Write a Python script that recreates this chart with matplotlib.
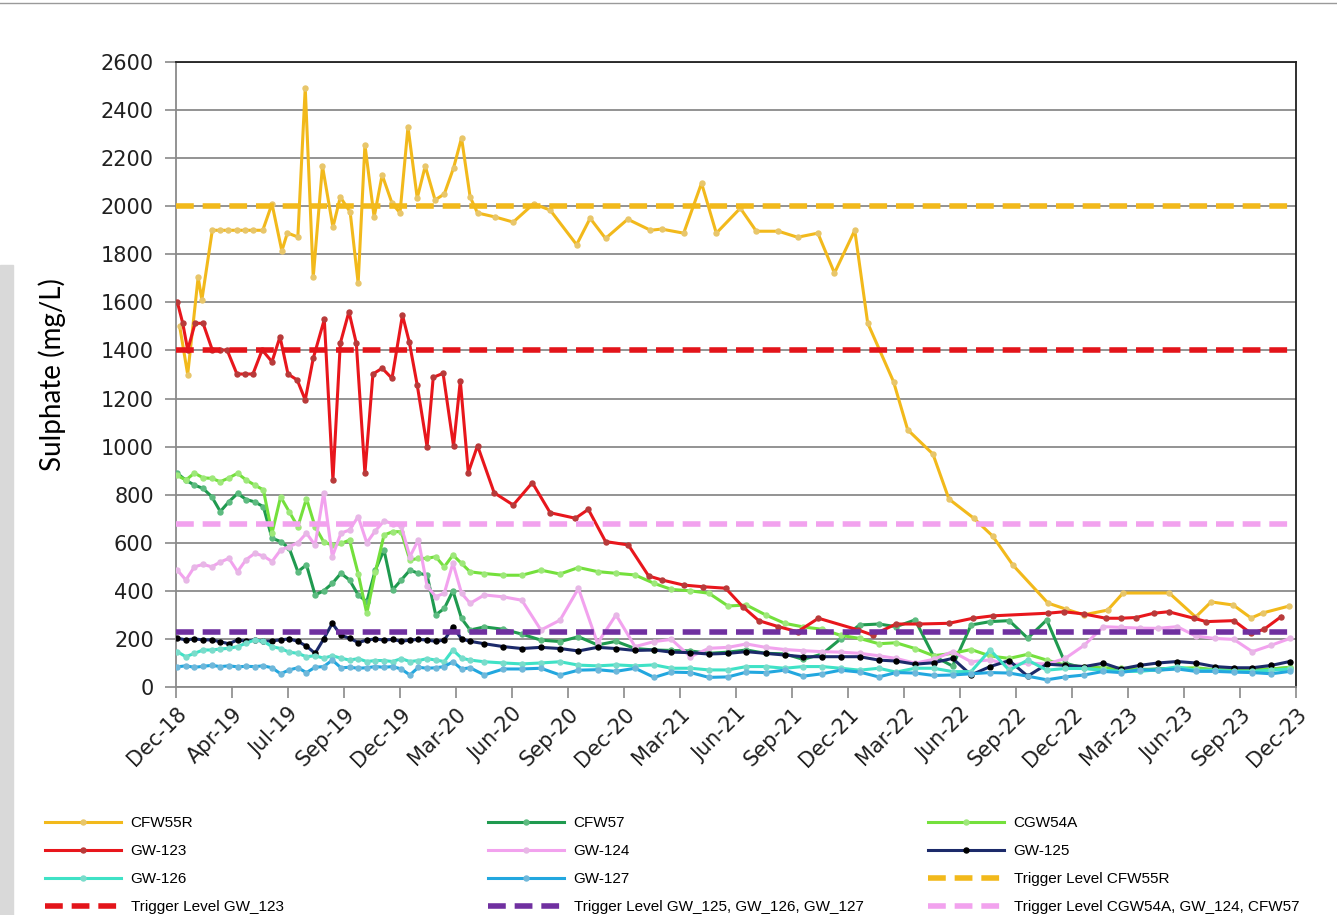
import pandas as pd
import matplotlib
matplotlib.use('Agg')
import matplotlib.pyplot as plt
import matplotlib.dates as mdates
from matplotlib.lines import Line2D
from matplotlib.patches import Rectangle

# --- DATA (Sulphate, mg/L) ---
# fortnightly round 2019 - Apr 2020, then monthly round (shared by the smaller wells)
early_dates = ['2019-01-02', '2019-01-16', '2019-01-30', '2019-02-13', '2019-02-27', '2019-03-13',
               '2019-03-27', '2019-04-10', '2019-04-24', '2019-05-08', '2019-05-22', '2019-06-05',
               '2019-06-19', '2019-07-03', '2019-07-17', '2019-07-31', '2019-08-14', '2019-08-28',
               '2019-09-11', '2019-09-25', '2019-10-09', '2019-10-23', '2019-11-06', '2019-11-20',
               '2019-12-04', '2019-12-18', '2020-01-01', '2020-01-15', '2020-01-29', '2020-02-12',
               '2020-02-26', '2020-03-11', '2020-03-25', '2020-04-08', '2020-04-22']
monthly_dates = ['2020-05-15', '2020-06-15', '2020-07-15', '2020-08-15', '2020-09-15', '2020-10-15',
                 '2020-11-15', '2020-12-15', '2021-01-15', '2021-02-15', '2021-03-15', '2021-04-15',
                 '2021-05-15', '2021-06-15', '2021-07-15', '2021-08-15', '2021-09-15', '2021-10-15',
                 '2021-11-15', '2021-12-15', '2022-01-15', '2022-02-15', '2022-03-15', '2022-04-15',
                 '2022-05-15', '2022-06-15', '2022-07-15', '2022-08-15', '2022-09-15', '2022-10-15',
                 '2022-11-15', '2022-12-15', '2023-01-15', '2023-02-15', '2023-03-15', '2023-04-15',
                 '2023-05-15', '2023-06-15', '2023-07-15', '2023-08-15', '2023-09-15', '2023-10-15',
                 '2023-11-15', '2023-12-15']
round_dates = early_dates + monthly_dates

cfw55r_dates = ['2019-01-06', '2019-01-19', '2019-02-05', '2019-02-11', '2019-02-28', '2019-03-13',
                '2019-03-26', '2019-04-09', '2019-04-22', '2019-05-05', '2019-05-21', '2019-06-05',
                '2019-06-21', '2019-06-30', '2019-07-17', '2019-07-29', '2019-08-11', '2019-08-26',
                '2019-09-12', '2019-09-24', '2019-10-10', '2019-10-23', '2019-11-03', '2019-11-18',
                '2019-12-01', '2019-12-17', '2019-12-30',
                '2020-01-12', '2020-01-27', '2020-02-09', '2020-02-25', '2020-03-11', '2020-03-26',
                '2020-04-08', '2020-04-22', '2020-05-04', '2020-06-02', '2020-07-01', '2020-08-03',
                '2020-08-30', '2020-10-12', '2020-11-03', '2020-11-28',
                '2021-01-03', '2021-02-09', '2021-02-27', '2021-04-04', '2021-05-03', '2021-05-27',
                '2021-07-05', '2021-07-31', '2021-09-05', '2021-10-06', '2021-11-08', '2021-12-05',
                '2022-01-07', '2022-01-28', '2022-03-11', '2022-04-03', '2022-05-14', '2022-06-09',
                '2022-07-19', '2022-08-19', '2022-09-21', '2022-11-17', '2022-12-16',
                '2023-01-14', '2023-02-22', '2023-03-19', '2023-06-02', '2023-07-15', '2023-08-09',
                '2023-09-14', '2023-10-13', '2023-11-01', '2023-12-14']
cfw55r = [1500, 1300, 1705, 1610, 1900, 1900, 1900, 1900, 1900, 1900, 1900, 2010, 1814, 1889, 1872,
          2492, 1705, 2167, 1913, 2038, 1976, 1680, 2255, 1955, 2130, 2013, 1972,
          2330, 2034, 2167, 2026, 2051, 2159, 2284, 2038, 1972, 1955, 1934, 2010, 1984, 1840, 1950, 1866,
          1946, 1900, 1905, 1888, 2096, 1888, 1992, 1896, 1896, 1871, 1888, 1722,
          1900, 1514, 1270, 1070, 969, 782, 703, 628, 507, 349, 324,
          300, 320, 391, 391, 291, 354, 341, 287, 308, 337]

gw123_dates = ['2019-01-02', '2019-01-11', '2019-01-19', '2019-01-31', '2019-02-13', '2019-02-28',
               '2019-03-13', '2019-03-24', '2019-04-09', '2019-04-22', '2019-05-05', '2019-05-20',
               '2019-06-05', '2019-06-18', '2019-07-01', '2019-07-16', '2019-07-29', '2019-08-11',
               '2019-08-29', '2019-09-12', '2019-09-24', '2019-10-08', '2019-10-20', '2019-11-03',
               '2019-11-16', '2019-12-01', '2019-12-17',
               '2020-01-03', '2020-01-14', '2020-01-27', '2020-02-12', '2020-02-22', '2020-03-09',
               '2020-03-26', '2020-04-06', '2020-04-19', '2020-05-04', '2020-05-31', '2020-07-01',
               '2020-08-01', '2020-08-30', '2020-10-10', '2020-10-31', '2020-11-28',
               '2021-01-04', '2021-02-06', '2021-02-28', '2021-04-04', '2021-05-06', '2021-06-11',
               '2021-07-09', '2021-08-04', '2021-09-05', '2021-10-06', '2021-11-09',
               '2022-01-13', '2022-02-05', '2022-03-15', '2022-04-21', '2022-06-09', '2022-07-18',
               '2022-08-19', '2022-11-17', '2022-12-13',
               '2023-01-14', '2023-02-19', '2023-03-15', '2023-04-09', '2023-05-08', '2023-06-01',
               '2023-07-12', '2023-08-01', '2023-09-15', '2023-10-13', '2023-11-03', '2023-12-01']
gw123 = [1603, 1513, 1402, 1513, 1513, 1402, 1402, 1402, 1302, 1302, 1302, 1402, 1353, 1457, 1302,
         1277, 1194, 1367, 1529, 861, 1430, 1561, 1430, 889, 1302, 1326, 1284,
         1547, 1436, 1256, 999, 1288, 1305, 1002, 1274, 892, 1004, 808, 757, 850, 725, 702, 739, 605,
         591, 462, 445, 424, 417, 411, 334, 276, 251, 230, 286,
         237, 216, 262, 262, 265, 286, 296, 307, 313,
         304, 286, 286, 289, 307, 313, 286, 272, 276, 223, 240, 293]

cfw57 = [889, 860, 840, 826, 792, 730, 771, 805, 780, 770, 750, 619, 605, 577, 480, 508, 383, 400,
         431, 473, 445, 383, 355, 487, 570, 404, 445, 486, 473, 466, 300, 327, 400, 285, 237,
         250, 240, 220, 195, 189, 209, 175, 190, 160, 154, 152, 150, 140, 145, 154, 140, 138, 115,
         137, 200, 258, 262, 251, 279, 129, 87, 258, 272, 276, 203, 279, 99, 78, 72, 70, 72, 75,
         78, 75, 72, 70, 72, 75, 80]
cgw54a = [880, 861, 890, 870, 868, 854, 870, 889, 861, 840, 820, 640, 791, 729, 667, 784, 667, 604,
          590, 597, 611, 472, 306, 479, 632, 646, 646, 528, 535, 535, 542, 500, 549, 514, 479,
          472, 465, 465, 486, 470, 497, 480, 473, 466, 431, 406, 400, 390, 337, 341, 300, 265, 250,
          240, 215, 202, 180, 184, 160, 130, 140, 156, 129, 119, 136, 112, 91, 84, 80, 78, 75, 70,
          78, 80, 72, 70, 72, 75, 82]
gw124 = [487, 445, 500, 510, 500, 520, 535, 480, 530, 556, 545, 522, 570, 584, 600, 640, 590, 809,
         542, 640, 653, 709, 600, 650, 690, 680, 670, 542, 612, 420, 376, 390, 515, 390, 348,
         383, 375, 361, 237, 278, 410, 182, 300, 168, 189, 198, 126, 161, 165, 179, 165, 156, 151,
         147, 145, 140, 130, 119, 99, 115, 147, 105, 113, 91, 100, 95, 119, 174, 251, 248, 245,
         244, 251, 212, 202, 198, 147, 174, 202]
gw125 = [203, 196, 200, 196, 196, 188, 180, 196, 190, 196, 190, 192, 196, 200, 190, 170, 140, 200,
         265, 215, 203, 185, 195, 200, 195, 198, 190, 195, 198, 195, 190, 195, 250, 200, 190,
         180, 168, 160, 165, 160, 150, 165, 160, 152, 154, 145, 143, 137, 140, 147, 140, 133, 126,
         126, 126, 126, 112, 108, 95, 101, 119, 50, 85, 110, 45, 95, 90, 85, 99, 75, 90, 100, 106,
         100, 85, 80, 80, 90, 106]
gw126 = [147, 126, 140, 154, 154, 158, 161, 168, 182, 196, 190, 168, 160, 145, 140, 126, 130, 120,
         130, 120, 112, 118, 106, 110, 110, 106, 118, 106, 110, 118, 112, 106, 154, 120, 112,
         105, 100, 96, 100, 105, 91, 88, 92, 88, 92, 78, 78, 71, 71, 85, 85, 78, 85, 85, 78, 70,
         78, 62, 78, 78, 64, 64, 154, 70, 112, 70, 77, 77, 70, 65, 65, 72, 84, 70, 70, 65, 65, 70, 75]
gw127 = [84, 88, 82, 86, 90, 85, 88, 84, 86, 85, 88, 80, 55, 71, 80, 60, 82, 85, 112, 80, 82, 78,
         80, 85, 82, 85, 75, 50, 82, 78, 80, 85, 105, 75, 80,
         50, 75, 75, 78, 50, 70, 72, 65, 78, 40, 62, 60, 40, 42, 62, 60, 70, 45, 55, 70, 62, 42, 60,
         58, 48, 50, 55, 60, 58, 45, 30, 42, 50, 65, 60, 72, 70, 75, 65, 65, 62, 60, 55, 65]

trigger_cfw55r = 2000
trigger_gw123 = 1400
trigger_gw125 = 228
trigger_cgw54a = 680

# --- STYLE ---
# (name, dates, values, line colour, marker colour)
series = [
    ('CFW55R', cfw55r_dates, cfw55r, '#F2B91B', '#E8C66A'),
    ('CFW57', round_dates, cfw57, '#1F9A4F', '#5DBB80'),
    ('CGW54A', round_dates, cgw54a, '#74E03C', '#9EE87A'),
    ('GW-123', gw123_dates, gw123, '#E8161C', '#B83A3A'),
    ('GW-124', round_dates, gw124, '#F2A2EE', '#E7B7E6'),
    ('GW-125', round_dates, gw125, '#1C2A6A', '#000000'),
    ('GW-126', round_dates, gw126, '#3FE2C6', '#7ADCCB'),
    ('GW-127', round_dates, gw127, '#22A7DF', '#6FB8DA'),
]
triggers = [
    ('Trigger Level CFW55R', trigger_cfw55r, '#F2B91B'),
    ('Trigger Level GW_123', trigger_gw123, '#E3141A'),
    ('Trigger Level GW_125, GW_126, GW_127', trigger_gw125, '#7030A0'),
    ('Trigger Level CGW54A, GW_124, CFW57', trigger_cgw54a, '#F2A2EE'),
]

fig = plt.figure(figsize=(13.37, 9.15), dpi=100)
ax = fig.add_axes([176 / 1337, 1 - 687 / 915, 1120 / 1337, 625 / 915])

handles = {}
for name, d, v, col, mcol in series:
    h, = ax.plot(pd.to_datetime(d), v, color=col, lw=2.2, marker='o', ms=3.6,
                 mfc=mcol, mec=mcol, label=name, zorder=3)
    handles[name] = h

for name, level, col in triggers:
    h = ax.axhline(level, color=col, lw=4, dashes=(3.2, 1.6), label=name, zorder=4)
    handles[name] = h

# axes
ax.set_ylim(0, 2600)
ax.set_yticks(range(0, 2601, 200))
ax.set_xlim(pd.Timestamp('2018-12-31'), pd.Timestamp('2023-12-25'))
tick_dates = pd.date_range('2018-12-31', periods=21, freq='91D')
ax.set_xticks(tick_dates)
ax.xaxis.set_major_formatter(mdates.DateFormatter('%b-%y'))
plt.setp(ax.get_xticklabels(), rotation=45, ha='right', rotation_mode='anchor')

ax.yaxis.grid(True, color='#8a8a8a', lw=1.3)
ax.set_axisbelow(True)
for s in ['left', 'bottom']:
    ax.spines[s].set_color('#8a8a8a')
    ax.spines[s].set_linewidth(1.3)
for s in ['top', 'right']:
    ax.spines[s].set_color('#202020')
    ax.spines[s].set_linewidth(1.3)
ax.tick_params(axis='both', direction='out', length=8, width=1.2, color='#8a8a8a',
               labelsize=15, labelcolor='#202020')
ax.tick_params(axis='y', pad=8)
ax.tick_params(axis='x', pad=4)
ax.set_ylabel('Sulphate (mg/L)', fontsize=20, family=['Lato', 'DejaVu Sans'], labelpad=25)

# legend, three columns
cols = [['CFW55R', 'GW-123', 'GW-126', 'Trigger Level GW_123'],
        ['CFW57', 'GW-124', 'GW-127', 'Trigger Level GW_125, GW_126, GW_127'],
        ['CGW54A', 'GW-125', 'Trigger Level CFW55R', 'Trigger Level CGW54A, GW_124, CFW57']]
col_x = [45, 488, 928]
for names, x0 in zip(cols, col_x):
    fig.legend([handles[n] for n in names], names, loc='upper left',
               bbox_to_anchor=(x0 / 1337, 1 - 816 / 915), frameon=False, numpoints=1,
               borderpad=0, borderaxespad=0, handlelength=5.0, handletextpad=0.6,
               labelspacing=0.92, prop={'family': ['Liberation Sans', 'DejaVu Sans'], 'size': 11})

# screenshot frame bits
fig.add_artist(Rectangle((0, 0), 13 / 1337, 650 / 915, transform=fig.transFigure,
                         color='#d9d9d9', zorder=-1))
fig.add_artist(Line2D([0, 1], [1 - 3 / 915] * 2, transform=fig.transFigure, color='#9a9a9a', lw=1))

fig.savefig('out.png', dpi=100)
